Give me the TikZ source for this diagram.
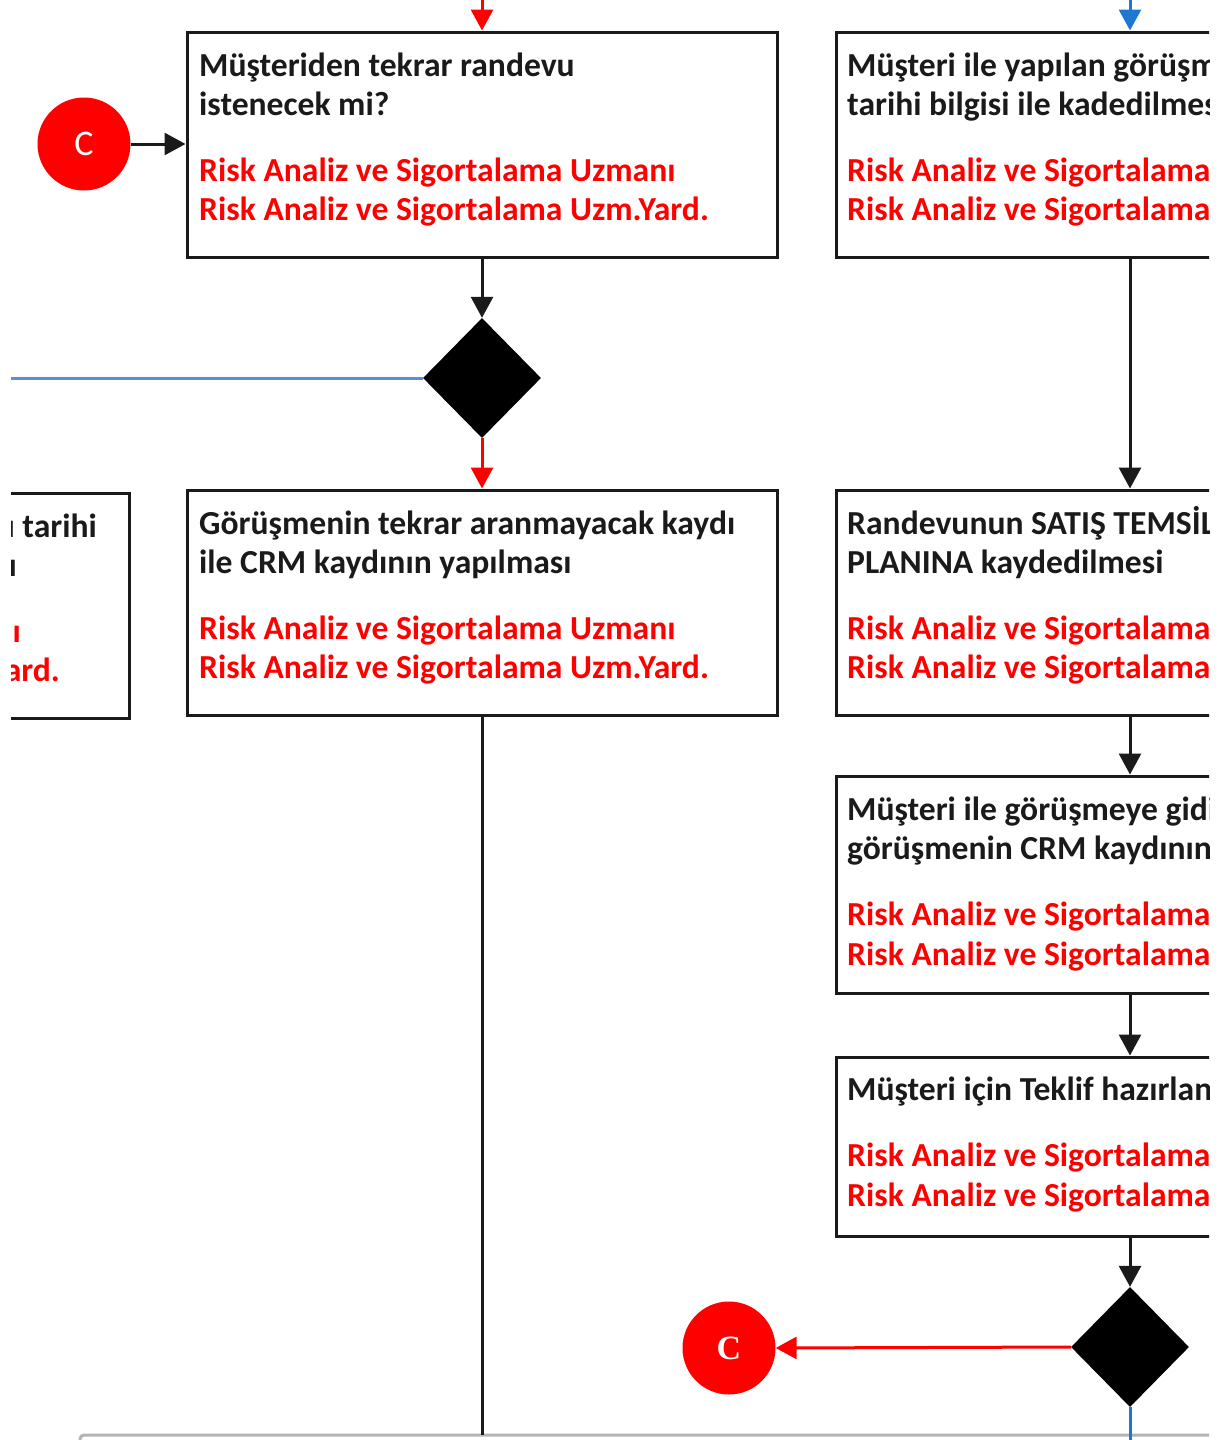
\documentclass[tikz,border=0pt]{standalone}
\usepackage{fontspec}
\setmainfont{Carlito}
\newfontfamily\cfont{Liberation Serif}
\usetikzlibrary{shapes.geometric,arrows.meta}
\definecolor{ink}{HTML}{1A1A1A}
\definecolor{rd}{HTML}{FF0000}
\definecolor{lanegray}{HTML}{B4B4B4}
\definecolor{blueA}{HTML}{5B8ED6}
\definecolor{blueB}{HTML}{1E78D2}
\tikzset{
  box/.style={draw=ink, line width=3pt, rectangle, inner sep=0pt, minimum width=590pt},
  txt/.style={inner sep=0pt, text=ink, font=\fontsize{33.6}{40}\selectfont\bfseries},
  rtxt/.style={txt, text=rd},
  dec/.style={diamond, fill=black, draw=none, inner sep=0pt, minimum width=118pt, minimum height=120pt},
  conn/.style={circle, fill=rd, draw=none, inner sep=0pt, minimum size=93pt, text=white},
  arr/.style={draw=ink, line width=3pt, -{Triangle[width=22pt,length=21pt]}},
  rarr/.style={draw=rd, line width=3pt, -{Triangle[width=22pt,length=21pt]}},
  barr/.style={draw=blueB, line width=3pt, -{Triangle[width=22pt,length=21pt]}},
  plain/.style={draw=ink, line width=3pt},
}
\begin{document}
\begin{tikzpicture}[x=1pt,y=-1pt]
\useasboundingbox[fill=white] (0,0) rectangle (1219,1440);
\begin{scope}
\clip (11,0) rectangle (1209,1440);

% boxes
\node[box, minimum height=225pt] (b1) at (482,144.5) {};
\node[box, minimum height=225pt] (b2) at (482,602.5) {};
\node[box, minimum height=225pt] (bl) at (-166,605.5) {};
\node[box, minimum height=225pt] (r1) at (1131,144.5) {};
\node[box, minimum height=225pt] (r2) at (1131,602.5) {};
\node[box, minimum height=217pt] (r3) at (1131,884.5) {};
\node[box, minimum height=179pt] (r4) at (1131,1146.5) {};

% decisions and connectors
\node[dec] (d1) at (482,378) {};
\node[dec] (d2) at (1130,1347) {};
\node[conn, font=\fontsize{36}{36}\selectfont] (c1) at (84,144) {C};
\node[conn, font=\cfont\fontsize{34}{34}\selectfont\bfseries] (c2) at (729,1348) {C};

% texts box 1
\node[txt, anchor=base west] (b1a) at (199,76) {Müşteriden tekrar randevu};
\node[txt, anchor=base west] (b1b) at (199,115) {istenecek mi?};
\node[rtxt, anchor=base west] (b1c) at (199,181) {Risk Analiz ve Sigortalama Uzmanı};
\node[rtxt, anchor=base west] (b1d) at (199,220) {Risk Analiz ve Sigortalama Uzm.Yard.};
% texts box 2
\node[txt, anchor=base west] (b2a) at (199,534) {Görüşmenin tekrar aranmayacak kaydı};
\node[txt, anchor=base west] (b2b) at (199,573) {ile CRM kaydının yapılması};
\node[rtxt, anchor=base west] (b2c) at (199,639) {Risk Analiz ve Sigortalama Uzmanı};
\node[rtxt, anchor=base west] (b2d) at (199,678) {Risk Analiz ve Sigortalama Uzm.Yard.};
% texts left box (cut off by the frame, as in the reference)
\node[txt, anchor=base east] (bla) at (97,537) {Müşteriden tekrar randevu alınarak randevu tarihi};
\node[txt, anchor=base east] (blb) at (17,576) {ile CRM kaydının yapılması};
\node[rtxt, anchor=base east] (blc) at (21,642) {Risk Analiz ve Sigortalama Uzmanı};
\node[rtxt, anchor=base east] (bld) at (60,681) {Risk Analiz ve Sigortalama Uzm.Yard.};
% texts right box 1
\node[txt, anchor=base west] (r1a) at (847,76) {Müşteri ile yapılan görüşmenin};
\node[txt, anchor=base west] (r1b) at (847,115) {tarihi bilgisi ile kadedilmesi};
\node[rtxt, anchor=base west] (r1c) at (847,181) {Risk Analiz ve Sigortalama Uzmanı};
\node[rtxt, anchor=base west] (r1d) at (847,220) {Risk Analiz ve Sigortalama Uzm.Yard.};
% texts right box 2
\node[txt, anchor=base west] (r2a) at (847,534) {Randevunun SATIŞ TEMSİLCİSİ};
\node[txt, anchor=base west] (r2b) at (847,573) {PLANINA kaydedilmesi};
\node[rtxt, anchor=base west] (r2c) at (847,639) {Risk Analiz ve Sigortalama Uzmanı};
\node[rtxt, anchor=base west] (r2d) at (847,678) {Risk Analiz ve Sigortalama Uzm.Yard.};
% texts right box 3
\node[txt, anchor=base west] (r3a) at (847,820) {Müşteri ile görüşmeye gidilmesi ve};
\node[txt, anchor=base west] (r3b) at (847,859) {görüşmenin CRM kaydının yapılması};
\node[rtxt, anchor=base west] (r3c) at (847,925) {Risk Analiz ve Sigortalama Uzmanı};
\node[rtxt, anchor=base west] (r3d) at (847,965) {Risk Analiz ve Sigortalama Uzm.Yard.};
% texts right box 4
\node[txt, anchor=base west] (r4a) at (847,1100) {Müşteri için Teklif hazırlanması};
\node[rtxt, anchor=base west] (r4c) at (847,1166) {Risk Analiz ve Sigortalama Uzmanı};
\node[rtxt, anchor=base west] (r4d) at (847,1206) {Risk Analiz ve Sigortalama Uzm.Yard.};

% free ends
\coordinate (topR) at (482,-20);
\coordinate (topB) at (1130,-20);
\coordinate (leftB) at (0,378);
\coordinate (bot1) at (482,1435);
\coordinate (bot2) at (1130,1460);

% lane boundary
\draw[lanegray, line width=3pt, rounded corners=4pt] (80,1470) -- (80,1435) -- (1300,1435);

% connectors
\draw[rarr] (topR) -- (b1.north);
\draw[barr] (topB) -- (r1.north -| topB);
\draw[arr] (c1.east) -- (c1 -| b1.west);
\draw[arr] (b1.south) -- (d1.north);
\draw[draw=blueA, line width=3pt] (d1.west) -- (leftB);
\draw[rarr] (d1.south) -- (b2.north);
\draw[plain] (b2.south) -- (bot1);
\draw[arr] (r1.south -| d2) -- (r2.north -| d2);
\draw[arr] (r2.south -| d2) -- (r3.north -| d2);
\draw[arr] (r3.south -| d2) -- (r4.north -| d2);
\draw[arr] (r4.south -| d2) -- (d2.north);
\draw[rarr] (d2.west) -- (c2.east);
\draw[draw=blueB, line width=3pt] (d2.south) -- (bot2);
\end{scope}
\end{tikzpicture}
\end{document}
